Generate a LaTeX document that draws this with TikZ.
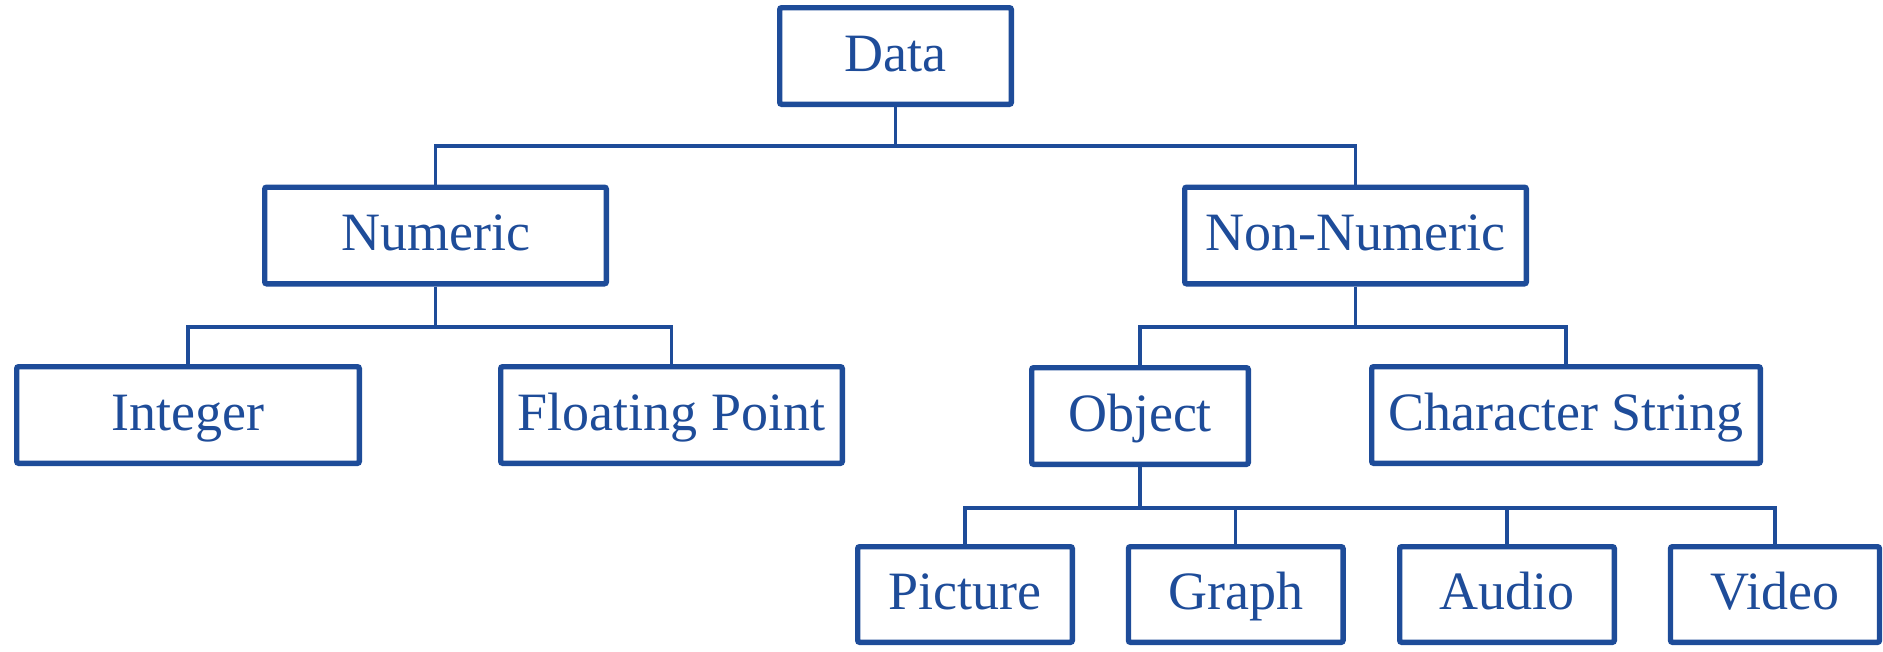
\documentclass[tikz,border=0pt]{standalone}
\usepackage{fontspec}
\setmainfont{Liberation Serif}
\definecolor{dblue}{RGB}{30,76,153}
\begin{document}
\begin{tikzpicture}[x=1pt,y=-1pt,
  box/.style={draw=dblue, line width=5.3pt, rounded corners=2pt, text=dblue,
    font=\fontsize{54}{60}\selectfont, inner sep=0pt, text height=42pt, text depth=12pt,
    minimum height=96.7pt},
  conn/.style={draw=dblue, line width=3.4pt}]
\useasboundingbox (0,0) rectangle (1883,651);
\node[box, minimum width=231.7pt] (data) at (895.5,56) {Data};
\node[box, minimum width=341.7pt] (num) at (435.5,235.5) {Numeric};
\node[box, minimum width=341.7pt] (non) at (1355.5,235.5) {Non-Numeric};
\node[box, minimum width=342.7pt] (int) at (188,415) {Integer};
\node[box, minimum width=341.7pt] (flt) at (671.5,415) {Floating Point};
\node[box, minimum width=216.7pt] (obj) at (1140,416) {Object};
\node[box, minimum width=388.7pt] (chr) at (1566,415) {Character String};
\node[box, minimum width=214.7pt, minimum height=95.7pt] (pic) at (965,594.5) {Picture};
\node[box, minimum width=214.7pt, minimum height=95.7pt] (gra) at (1235.75,594.5) {Graph};
\node[box, minimum width=214.7pt, minimum height=95.7pt] (aud) at (1507,594.5) {Audio};
\node[box, minimum width=209pt, minimum height=95.7pt] (vid) at (1775,594.5) {Video};
\coordinate (b1) at (0,146);
\coordinate (b2) at (0,327);
\coordinate (b3) at (0,508);
\draw[conn] (data.south) -- (data.south |- b1) -| (num.north);
\draw[conn] (data.south |- b1) -| (non.north);
\draw[conn] (num.south) -- (num.south |- b2) -| (int.north);
\draw[conn] (num.south |- b2) -| (flt.north);
\draw[conn] (non.south) -- (non.south |- b2) -| (obj.north);
\draw[conn] (non.south |- b2) -| (chr.north);
\draw[conn] (obj.south) -- (obj.south |- b3) -| (pic.north);
\draw[conn] (obj.south |- b3) -| (vid.north);
\draw[conn] (gra.north) -- (gra.north |- b3);
\draw[conn] (aud.north) -- (aud.north |- b3);
\end{tikzpicture}
\end{document}
